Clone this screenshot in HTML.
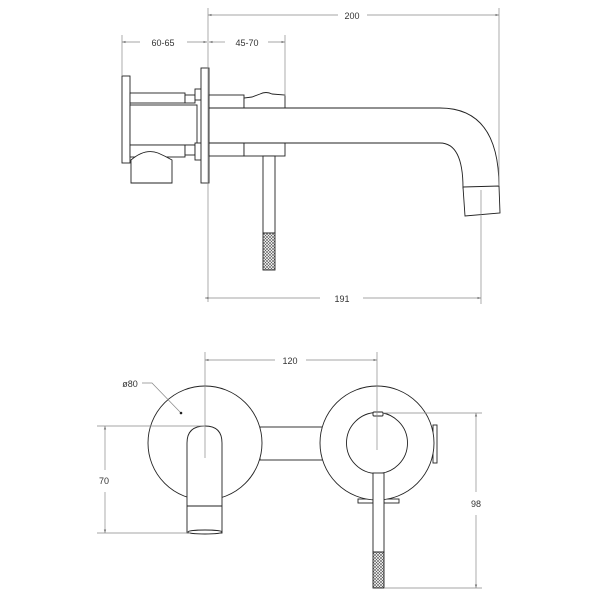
<!DOCTYPE html>
<html><head><meta charset="utf-8"><style>html,body{margin:0;padding:0;background:#fff}svg{display:block}</style></head>
<body>
<svg width="600" height="600" viewBox="0 0 600 600" xmlns="http://www.w3.org/2000/svg">
<defs>
<pattern id="h" width="3" height="3" patternUnits="userSpaceOnUse">
<rect width="3" height="3" fill="#fff"/><path d="M0 0L3 3M3 0L0 3" stroke="#555" stroke-width="0.6"/>
</pattern>
<marker id="a" viewBox="0 0 6 6" refX="6" refY="3" markerWidth="5" markerHeight="5" orient="auto-start-reverse"><path d="M0 1L6 3L0 5z" fill="#777"/></marker>
</defs>
<g font-family="Liberation Sans, sans-serif" font-size="9" fill="#333" text-anchor="middle">
<text x="352" y="19">200</text>
<text x="163" y="46">60-65</text>
<text x="247" y="46">45-70</text>
<text x="342" y="302">191</text>
<text x="290" y="364">120</text>
<text x="130" y="387">ø80</text>
<text x="104" y="484">70</text>
<text x="476" y="507">98</text>
</g>
<g stroke="#222" stroke-width="0.9" fill="#fff">
<!-- side view -->
<rect x="122" y="76" width="8" height="87"/>
<rect x="130" y="93" width="55" height="10"/>
<rect x="185" y="95" width="10" height="8"/>
<rect x="130" y="105" width="67" height="40"/>
<rect x="130" y="145" width="55" height="12"/>
<rect x="185" y="145" width="10" height="10"/>
<path d="M131 160 Q145 148 158 153 Q165 156 172 160 L172 183 L131 183 Z"/>
<rect x="195" y="89" width="7" height="11"/>
<rect x="195" y="143" width="7" height="17"/>
<rect x="201" y="68" width="8" height="115"/>
<rect x="209" y="95" width="35" height="13"/>
<rect x="209" y="143" width="35" height="13"/>
<rect x="244" y="143" width="41" height="13"/>
<path d="M244 108 L244 98 L252 97 L260 94 Q266 91 272 94 L285 95 L285 108 Z"/>
<path d="M209 108 L440 108 Q499 108 499 187 L463 188 Q463 143 440 143 L209 143 Z"/>
<path d="M463 187 L499 186 L500 213 L465 216 Z"/>
<rect x="263" y="156" width="12" height="77"/>
<rect x="263" y="233" width="12" height="37" fill="url(#h)"/>
<!-- front view -->
<rect x="260" y="427" width="64" height="33"/>
<rect x="358" y="499" width="15" height="4"/>
<rect x="384" y="499" width="15" height="4"/>
<rect x="433" y="425" width="4" height="38"/>
<circle cx="205" cy="443" r="57"/>
<circle cx="377" cy="443" r="57"/>
<path d="M187 533 L187 443 Q187 426 205 426 Q222 426 222 443 L222 533 Z"/>
<line x1="187" y1="506" x2="222" y2="506"/>
<ellipse cx="205" cy="532" rx="17" ry="2"/>
<circle cx="377" cy="443" r="30.5"/>
<rect x="373" y="412" width="10" height="4" rx="1"/>
<rect x="373" y="473" width="11" height="79"/>
<rect x="373" y="552" width="11" height="36" fill="url(#h)"/>
</g>
<g stroke="#888" stroke-width="0.7" fill="none">
<line x1="208" y1="8" x2="208" y2="302"/><line x1="499" y1="8" x2="499" y2="186"/>
<line x1="208" y1="15" x2="338" y2="15" marker-start="url(#a)"/><line x1="367" y1="15" x2="499" y2="15" marker-end="url(#a)"/>
<line x1="122" y1="35" x2="122" y2="76"/>
<line x1="122" y1="42" x2="140" y2="42" marker-start="url(#a)"/><line x1="187" y1="42" x2="207" y2="42" marker-end="url(#a)"/>
<line x1="285" y1="35" x2="285" y2="96"/>
<line x1="209" y1="42" x2="225" y2="42" marker-start="url(#a)"/><line x1="268" y1="42" x2="285" y2="42" marker-end="url(#a)"/>
<line x1="481" y1="190" x2="481" y2="304"/>
<line x1="205" y1="298" x2="320" y2="298" marker-start="url(#a)"/><line x1="363" y1="298" x2="481" y2="298" marker-end="url(#a)"/>
<line x1="205" y1="352" x2="205" y2="458"/><line x1="377" y1="352" x2="377" y2="450"/>
<line x1="205" y1="360" x2="275" y2="360" marker-start="url(#a)"/><line x1="306" y1="360" x2="377" y2="360" marker-end="url(#a)"/>
<line x1="97" y1="426" x2="205" y2="426"/><line x1="97" y1="533" x2="190" y2="533"/>
<line x1="105" y1="426" x2="105" y2="470" marker-start="url(#a)"/><line x1="105" y1="492" x2="105" y2="533" marker-end="url(#a)"/>
<line x1="383" y1="413" x2="482" y2="413"/><line x1="384" y1="588" x2="482" y2="588"/>
<line x1="476" y1="413" x2="476" y2="492" marker-start="url(#a)"/><line x1="476" y1="515" x2="476" y2="588" marker-end="url(#a)"/>
<polyline points="142,383 152,383 180,412"/>
</g>
<circle cx="181" cy="413" r="1.3" fill="#222"/>
</svg>
</body></html>
